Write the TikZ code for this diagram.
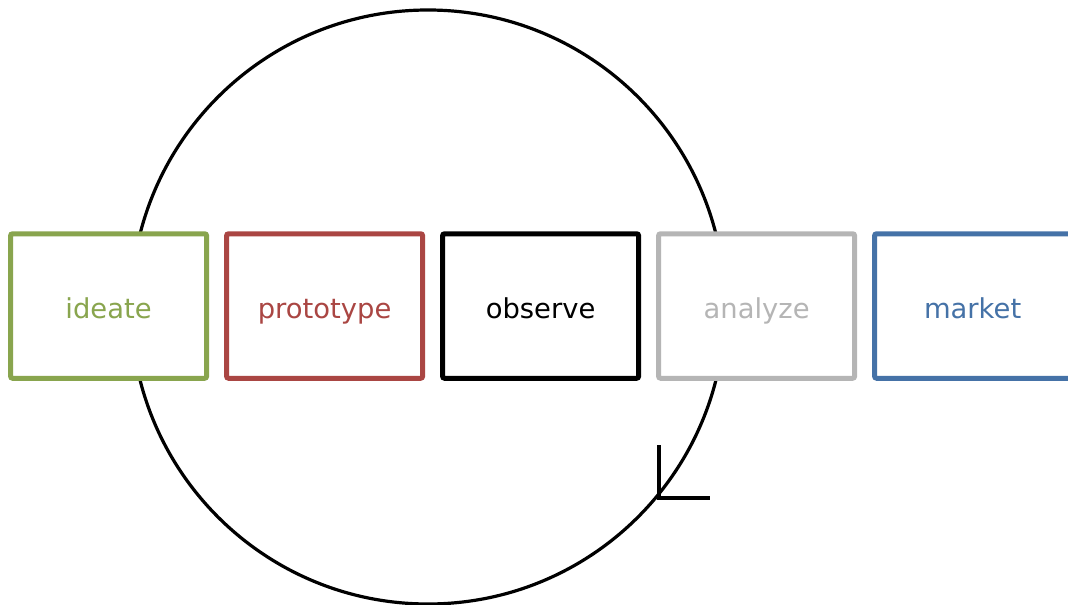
\documentclass[tikz,border=0pt]{standalone}
\usepackage{fontspec}
\setmainfont{DejaVu Sans}
\usepackage{tikz}
\usetikzlibrary{positioning}
\definecolor{ideategreen}{HTML}{89A54E}
\definecolor{protored}{HTML}{AA4643}
\definecolor{analyzegray}{HTML}{B5B5B5}
\definecolor{marketblue}{HTML}{4572A7}
\tikzset
{
  stage/.style={draw=#1,text=#1,fill=white,line width=2.5pt,rounded corners=1pt,
    minimum width=98pt,minimum height=72.25pt,outer sep=0pt,inner sep=0pt,
    text height=12pt,text depth=0pt,
    font=\fontsize{13.7}{16}\selectfont},
  cycle/.style={draw=black,line width=1.6pt}
}
\begin{document}
\begin{tikzpicture}[x=0.5pt,y=-0.5pt,node distance=10pt]
        \useasboundingbox (0,0) rectangle (1068,604);
        \clip (0,0) rectangle (1068,604);

        % The loop
        \draw[cycle] (428,307) circle [radius=148.5pt];

        % Stages
        \node[stage=ideategreen] (ideate) at (108.6,306) {ideate};
        \node[stage=protored, right=of ideate] (prototype) {prototype};
        \node[stage=black, right=of prototype] (observe) {observe};
        \node[stage=analyzegray, right=of observe] (analyze) {analyze};
        \node[stage=marketblue, right=of analyze] (market) {market};

        % Direction of the loop
        \coordinate (tip) at (659,498);
        \draw[cycle, line width=1.8pt] ([yshift=26.5pt]tip) -- (tip) -- ([xshift=25.5pt]tip);
    \end{tikzpicture}
\end{document}
